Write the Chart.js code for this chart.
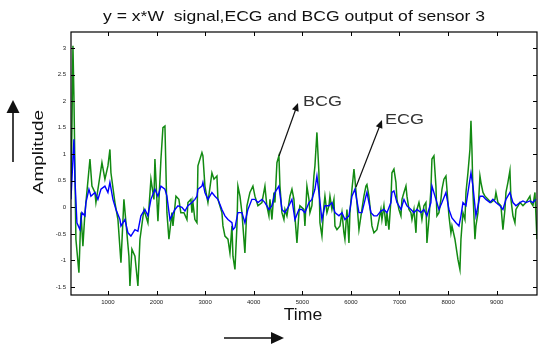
<!DOCTYPE html>
<html>
<head>
<meta charset="utf-8">
<script src="https://cdn.jsdelivr.net/npm/chart.js@4.4.1/dist/chart.umd.min.js"></script>
<style>
  html, body { margin: 0; padding: 0; background: #fff; }
  #wrap { width: 538px; height: 345px; position: relative; }
</style>
</head>
<body>
<div id="wrap"><canvas id="sensorChart" width="538" height="345"></canvas></div>
<script>
const xTicks = [1000, 2000, 3000, 4000, 5000, 6000, 7000, 8000, 9000];
const yTicks = [-1.5, -1, -0.5, 0, 0.5, 1, 1.5, 2, 2.5, 3];

// BCG (green) trace
const bcgTime = [239, 260, 280, 300, 341, 403, 445, 485, 527, 547, 630, 671, 732, 753, 877, 938, 1000, 1041, 1062, 1144,
  1206, 1268, 1329, 1432, 1453, 1494, 1556, 1617, 1659, 1741, 1823, 1885, 1947, 1967, 2029, 2091, 2132, 2173, 2214, 2255,
  2317, 2338, 2400, 2460, 2500, 2564, 2626, 2646, 2708, 2729, 2749, 2790, 2832, 2852, 2935, 2955, 2996, 3058, 3140, 3182,
  3243, 3264, 3346, 3367, 3408, 3470, 3511, 3552, 3573, 3614, 3655, 3675, 3717, 3758, 3778, 3819, 3861, 3922, 3984, 4025,
  4087, 4169, 4231, 4270, 4313, 4334, 4375, 4416, 4437, 4478, 4519, 4540, 4581, 4622, 4643, 4684, 4746, 4787, 4828, 4848,
  4890, 4931, 4951, 5034, 5054, 5095, 5137, 5157, 5198, 5239, 5260, 5301, 5342, 5363, 5404, 5445, 5466, 5507, 5548, 5569,
  5610, 5651, 5672, 5713, 5775, 5816, 5857, 5877, 5919, 5960, 5980, 6022, 6063, 6083, 6124, 6166, 6227, 6268, 6310, 6330,
  6371, 6413, 6433, 6474, 6536, 6577, 6618, 6639, 6680, 6721, 6742, 6783, 6824, 6845, 6886, 6927, 6948, 6989, 7030, 7051,
  7092, 7133, 7154, 7195, 7236, 7257, 7298, 7339, 7360, 7401, 7442, 7462, 7503, 7544, 7565, 7606, 7647, 7668, 7709, 7750,
  7771, 7812, 7853, 7874, 7915, 7956, 7977, 8018, 8059, 8080, 8141, 8203, 8244, 8265, 8306, 8347, 8368, 8409, 8450, 8471,
  8491, 8512, 8553, 8573, 8615, 8656, 8676, 8718, 8759, 8820, 8882, 8964, 8985, 9026, 9088, 9129, 9170, 9191, 9232, 9273,
  9294, 9335, 9376, 9397, 9479, 9541, 9603, 9685, 9705, 9746, 9788, 9829];
const bcgValue = [0.28, 1.53, 3.04, 2.10, -0.60, -1.23, -0.10, -0.73, -0.10, 0.09, 0.91, 0.40, 0.28, 0.09, 0.84, 0.53, 0.78, 1.09, 0.65, 0.09,
  -0.23, -1.04, 0.15, -0.92, -1.48, -0.79, -0.92, -1.48, -0.60, -0.04, -0.29, 0.53, 0.15, 0.91, -0.26, 0.91, 1.50, 1.53, -0.10, -0.60,
  -0.10, -0.35, 0.21, 0.15, -0.10, -0.10, -0.23, 0.09, 0.15, -0.10, 0.09, -0.23, -0.29, 0.78, 1.03, 0.97, 0.40, 0.09, 0.65, 0.53,
  0.59, 0.15, -0.10, -0.35, -0.54, -0.60, -0.86, -0.35, -0.92, -1.17, -0.35, 0.40, 0.21, -0.10, -0.35, -0.86, 0.03, 0.28, 0.40, 0.21,
  0.03, 0.09, 0.40, 0.03, -0.16, 0.15, -0.23, 0.28, 0.09, 0.84, 0.97, 0.40, -0.10, -0.23, -0.04, -0.16, 0.21, 0.34, 0.15, -0.16,
  -0.67, -0.10, 0.03, -0.04, -0.35, 0.40, 0.15, -0.10, 0.03, 0.59, 0.78, 1.41, 0.65, -0.29, -0.54, 0.03, 0.21, -0.10, 0.03, 0.21,
  -0.04, 0.15, -0.35, -0.42, -0.35, -0.10, -0.48, -0.60, -0.04, -0.67, -0.10, 0.34, 0.72, 0.53, 0.09, -0.42, -0.04, 0.21, 0.40, 0.43,
  0.21, -0.16, -0.35, -0.48, -0.42, -0.23, -0.04, -0.23, 0.03, -0.35, -0.10, -0.42, 0.15, 0.65, 0.72, 0.47, 0.15, -0.04, -0.16, 0.15,
  0.28, 0.40, 0.21, -0.04, -0.10, -0.23, -0.04, -0.48, -0.04, 0.09, -0.10, -0.23, 0.03, 0.09, -0.67, -0.23, 0.34, 0.91, 0.97, 0.40,
  -0.16, -0.10, 0.15, 0.34, 0.53, 0.59, 0.34, -0.16, -0.48, -0.35, -0.60, -0.98, -1.17, -0.60, -0.10, -0.23, 0.28, 0.65, 1.09, 1.63,
  1.09, 0.28, -0.60, -0.35, -0.10, 0.59, 0.47, 0.28, 0.21, 0.15, 0.09, 0.15, 0.28, 0.09, 0.03, -0.42, -0.04, 0.28, 0.47, 0.69,
  0.15, -0.16, -0.29, -0.04, 0.09, 0.03, 0.09, 0.21, 0.09, 0.03, 0.28, -0.60];

// ECG (blue) trace
const ecgTime = [239, 280, 300, 321, 362, 424, 465, 527, 547, 609, 650, 732, 794, 856, 938, 1000, 1041, 1103, 1165, 1247,
  1268, 1350, 1412, 1473, 1556, 1617, 1679, 1761, 1823, 1885, 1967, 2029, 2091, 2173, 2214, 2276, 2379, 2441, 2523, 2585,
  2646, 2729, 2790, 2832, 2852, 2935, 2955, 2996, 3058, 3140, 3202, 3264, 3346, 3408, 3470, 3552, 3573, 3614, 3675, 3758,
  3819, 3881, 3963, 4025, 4087, 4169, 4231, 4313, 4375, 4437, 4519, 4581, 4643, 4725, 4787, 4848, 4931, 4993, 5054, 5137,
  5198, 5260, 5301, 5342, 5404, 5466, 5548, 5610, 5672, 5754, 5816, 5877, 5960, 6022, 6083, 6166, 6227, 6310, 6330, 6413,
  6474, 6536, 6618, 6680, 6742, 6824, 6845, 6886, 6948, 7030, 7092, 7154, 7236, 7298, 7360, 7442, 7503, 7565, 7647, 7668,
  7750, 7812, 7874, 7956, 8018, 8080, 8162, 8224, 8265, 8306, 8368, 8409, 8471, 8512, 8573, 8656, 8718, 8779, 8862, 8923,
  8985, 9067, 9129, 9191, 9273, 9335, 9397, 9479, 9541, 9603, 9685, 9746, 9808];
const ecgValue = [0.15, 0.91, 1.28, 0.53, -0.29, -0.42, -0.10, -0.16, 0.09, 0.34, 0.21, 0.28, 0.15, 0.34, 0.40, 0.28, 0.47, 0.15, -0.04, -0.23,
  -0.35, -0.23, -0.48, -0.54, -0.42, -0.45, -0.16, -0.04, -0.16, 0.15, 0.34, 0.21, 0.40, 0.34, 0.21, -0.23, -0.04, 0.03, 0.00, -0.07,
  0.03, 0.09, 0.15, 0.21, 0.34, 0.40, 0.47, 0.28, 0.15, 0.28, 0.21, 0.15, -0.04, -0.16, -0.23, -0.29, -0.42, -0.38, -0.10, -0.10,
  -0.29, -0.04, 0.15, 0.15, 0.09, 0.15, 0.09, -0.04, 0.03, 0.28, 0.40, -0.04, -0.10, 0.03, 0.15, -0.23, -0.04, -0.04, -0.10, 0.09,
  0.15, 0.34, 0.59, 0.28, -0.23, 0.03, 0.03, 0.09, -0.10, -0.16, -0.10, -0.23, -0.16, 0.21, 0.34, -0.10, -0.10, 0.21, 0.28, -0.10,
  -0.16, -0.16, -0.07, -0.04, -0.10, 0.09, 0.28, 0.31, 0.09, -0.04, 0.15, 0.03, -0.04, -0.10, -0.04, -0.10, -0.04, -0.16, 0.09, 0.40,
  0.15, -0.04, 0.09, 0.28, -0.04, -0.20, -0.29, -0.35, -0.16, 0.09, 0.03, 0.28, 0.65, 0.40, -0.16, 0.21, 0.21, 0.15, 0.09, 0.15,
  0.09, 0.03, -0.04, 0.15, 0.28, 0.09, 0.03, 0.09, 0.12, 0.09, 0.12, 0.09, 0.15];

const toPoints = (xs, ys) => xs.map((x, i) => ({ x: x, y: ys[i] }));

const FONT = '"Liberation Sans", Arial, sans-serif';

// text that is a bit wider than the font (the source picture is stretched)
function wideText(ctx, text, x, y, size, stretch, align) {
  ctx.save();
  ctx.translate(x, y);
  ctx.scale(stretch, 1);
  ctx.font = size + 'px ' + FONT;
  ctx.textAlign = align || 'center';
  ctx.textBaseline = 'middle';
  ctx.fillText(text, 0, 0);
  ctx.restore();
}

function arrow(ctx, x1, y1, x2, y2, head, width) {
  const a = Math.atan2(y2 - y1, x2 - x1);
  ctx.beginPath();
  ctx.moveTo(x1, y1);
  ctx.lineTo(x2 - Math.cos(a) * head * 0.8, y2 - Math.sin(a) * head * 0.8);
  ctx.stroke();
  ctx.beginPath();
  ctx.moveTo(x2, y2);
  ctx.lineTo(x2 - Math.cos(a) * head + Math.sin(a) * width, y2 - Math.sin(a) * head - Math.cos(a) * width);
  ctx.lineTo(x2 - Math.cos(a) * head - Math.sin(a) * width, y2 - Math.sin(a) * head + Math.cos(a) * width);
  ctx.closePath();
  ctx.fill();
}

const decorations = {
  id: 'decorations',
  afterDraw(chart) {
    const ctx = chart.ctx;
    const area = chart.chartArea;
    const xs = chart.scales.x, ys = chart.scales.y;
    ctx.save();
    // frame
    ctx.strokeStyle = '#000';
    ctx.lineWidth = 1.2;
    ctx.strokeRect(area.left, area.top, area.right - area.left, area.bottom - area.top);
    // inward ticks on all four sides
    ctx.lineWidth = 1;
    xTicks.forEach(v => {
      const px = Math.round(xs.getPixelForValue(v)) + 0.5;
      ctx.beginPath();
      ctx.moveTo(px, area.bottom); ctx.lineTo(px, area.bottom - 4);
      ctx.moveTo(px, area.top); ctx.lineTo(px, area.top + 4);
      ctx.stroke();
    });
    yTicks.forEach(v => {
      const py = Math.round(ys.getPixelForValue(v)) + 0.5;
      ctx.beginPath();
      ctx.moveTo(area.left, py); ctx.lineTo(area.left + 4, py);
      ctx.moveTo(area.right, py); ctx.lineTo(area.right - 4, py);
      ctx.stroke();
    });
    // texts
    ctx.fillStyle = '#111';
    wideText(ctx, 'y = x*W  signal,ECG and BCG output of sensor 3', 294, 17, 15, 1.17);
    wideText(ctx, 'Time', 303, 316, 16, 1.1);
    ctx.save();
    ctx.translate(39, 152);
    ctx.rotate(-Math.PI / 2);
    wideText(ctx, 'Amplitude', 0, 0, 14, 1.35);
    ctx.restore();
    ctx.fillStyle = '#333';
    wideText(ctx, 'BCG', 303, 102, 15, 1.2, 'left');
    wideText(ctx, 'ECG', 385, 120, 15, 1.2, 'left');
    // arrows
    ctx.strokeStyle = '#111';
    ctx.fillStyle = '#111';
    ctx.lineWidth = 1.2;
    arrow(ctx, 279, 156, 298, 103, 8, 3.5);
    arrow(ctx, 356, 187, 382, 120, 8, 3.5);
    ctx.lineWidth = 1.6;
    arrow(ctx, 13, 162, 13, 100, 13, 6.5);
    arrow(ctx, 224, 338, 284, 338, 13, 6);
    ctx.restore();
  }
};

new Chart(document.getElementById('sensorChart'), {
  type: 'line',
  data: {
    datasets: [
      {
        label: 'ECG',
        data: toPoints(ecgTime, ecgValue),
        borderColor: '#0000ff',
        borderWidth: 1.4,
        pointRadius: 0,
        tension: 0,
        order: 0
      },
      {
        label: 'BCG',
        data: toPoints(bcgTime, bcgValue),
        borderColor: '#128a12',
        borderWidth: 1.5,
        pointRadius: 0,
        tension: 0,
        order: 1
      }
    ]
  },
  options: {
    responsive: false,
    animation: false,
    layout: { padding: { top: 32, right: 1, left: 0, bottom: 0 } },
    plugins: { legend: { display: false }, tooltip: { enabled: false } },
    scales: {
      x: {
        type: 'linear',
        min: 240,
        max: 9830,
        grid: { display: false, drawTicks: false },
        border: { display: false },
        afterBuildTicks: s => { s.ticks = xTicks.map(v => ({ value: v })); },
        afterFit: s => { s.height = 50; },
        ticks: { font: { size: 6 }, color: '#222', padding: 4, maxRotation: 0, autoSkip: false, callback: v => String(v) }
      },
      y: {
        min: -1.65,
        max: 3.3,
        grid: { display: false, drawTicks: false },
        border: { display: false },
        afterBuildTicks: s => { s.ticks = yTicks.map(v => ({ value: v })); },
        afterFit: s => { s.width = 71; },
        ticks: { font: { size: 6 }, color: '#222', padding: 5, autoSkip: false, callback: v => String(v) }
      }
    }
  },
  plugins: [decorations]
});
</script>
</body>
</html>
